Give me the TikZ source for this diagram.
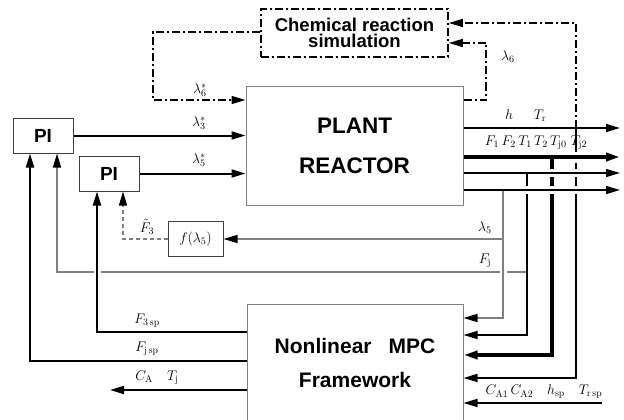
\RequirePackage{fix-cm}
\documentclass[tikz,border=0pt]{standalone}
\usepackage{fontspec}
\newfontfamily\bsf{Liberation Sans}[BoldFont={Liberation Sans Bold}]
\usetikzlibrary{arrows.meta,calc}
\definecolor{lg}{gray}{0.5}
\tikzset{
  arr/.style={-{Triangle[length=14pt,width=8pt]}},
  arrk/.style={-{Triangle[length=14pt,width=8pt,color=black]}},
  boxg/.style={draw=lg, line width=1pt, fill=white, inner sep=0pt},
  boxd/.style={draw=black!75, line width=1pt, fill=white, inner sep=0pt},
  ddot/.style={line width=1.5pt, dash pattern=on 8pt off 3pt on 2pt off 3pt},
  medl/.style={line width=2pt},
  thinl/.style={line width=1.3pt},
  thickl/.style={line width=4pt},
  grayl/.style={draw=lg, line width=1.3pt},
  lab/.style={inner sep=0pt, font=\fontsize{14}{16}\selectfont},
  gapw/.style={draw=white, line width=#1},
}
\begin{document}
\begin{tikzpicture}[x=1pt,y=-1pt]
\useasboundingbox (0,0) rectangle (624,420);

% boxes
\node[draw=black, ddot, fill=white, minimum width=187pt, minimum height=48pt, inner sep=0pt,
      align=center, font=\bsf\bfseries\fontsize{18.5}{16.5}\selectfont] (chem) at (354.5,33) {Chemical reaction\\simulation};
\node[boxg, minimum width=217pt, minimum height=118pt, align=center,
      font=\bsf\bfseries\fontsize{22.5}{40}\selectfont] (plant) at (354.5,146) {PLANT\\REACTOR};
\node[boxg, minimum width=216pt, minimum height=118pt, align=center,
      font=\bsf\bfseries\fontsize{21}{34}\selectfont] (mpc) at (355,363) {Nonlinear\hspace{17pt}MPC\\Framework};
\node[boxd, minimum width=60pt, minimum height=35pt, font=\bsf\bfseries\fontsize{19}{20}\selectfont] (pi1) at (43,135.5) {PI};
\node[boxd, minimum width=60pt, minimum height=35pt, font=\bsf\bfseries\fontsize{19}{20}\selectfont] (pi2) at (109,173.5) {PI};
\node[boxd, minimum width=55pt, minimum height=35pt, font=\fontsize{14}{16}\selectfont] (fbox) at (195.5,239) {$f(\lambda_5)$};

% coordinates
\coordinate (a1) at (153,32);  \coordinate (a2) at (153,100);
\coordinate (b1) at (486,100); \coordinate (b2) at (486,43);
\coordinate (o1) at (576,128); \coordinate (o2) at (576,23);
\coordinate (e1) at (620,128); \coordinate (e2) at (620,157);
\coordinate (e3) at (620,173); \coordinate (e4) at (620,190);
\coordinate (v1) at (576,378);
\coordinate (t1) at (552,157); \coordinate (t2) at (552,355);
\coordinate (s1) at (527,173); \coordinate (s2) at (527,335);
\coordinate (r1) at (503,190); \coordinate (r2) at (503,318);
\coordinate (l1) at (503,239);
\coordinate (j1) at (527,272); \coordinate (j2) at (57,272);
\coordinate (k1) at (123,239);
\coordinate (m1) at (97,332);
\coordinate (n1) at (30,361);
\coordinate (q1) at (110,390);
\coordinate (p1) at (602,403);

% dash-dot loops around the chemical reaction simulation
\draw[ddot, arr] (chem.west |- a1) -- (a1) -- (a2) -- (plant.west |- a2);
\draw[ddot, arr] (plant.east |- b1) -- (b1) -- (b2) -- (chem.east |- b2);
\draw[ddot, arr] (o1) -- (o2) -- (chem.east |- o2);

% PI outputs
\draw[medl, arr] (pi1.east) -- (plant.west |- pi1.east);
\draw[medl, arr] (pi2.east) -- (plant.west |- pi2.east);

% F_j line (below verticals)
\draw[grayl, arrk] (j1) -- (j2) -- (pi1.south -| j2);
\draw[gapw=7pt] (503,266) -- (503,278);
\draw[gapw=7pt] (97,266) -- (97,278);

% verticals to MPC
\draw[thinl, line width=1.6pt, arr] (o1) -- (v1) -- (mpc.east |- v1);
\draw[thickl, arr] (t1) -- (t2) -- (mpc.east |- t2);
\draw[thinl, arr] (s1) -- (s2) -- (mpc.east |- s2);
\draw[grayl, arrk] (r1) -- (r2) -- (mpc.east |- r2);
\draw[grayl, arrk] (l1) -- (fbox.east);

% gaps in verticals where outputs cross
\draw[gapw=11pt] (572,157) -- (580,157);
\draw[gapw=8pt] (572,173) -- (580,173);
\draw[gapw=8pt] (572,190) -- (580,190);
\draw[gapw=8pt] (546,173) -- (558,173);
\draw[gapw=8pt] (546,190) -- (558,190);
\draw[gapw=8pt] (523,190) -- (531,190);

% plant outputs
\draw[medl, arr] (plant.east |- e1) -- (e1);
\draw[thickl, arr] (plant.east |- e2) -- (e2);
\draw[thinl, arr] (plant.east |- e3) -- (e3);
\draw[thinl, arr] (plant.east |- e4) -- (e4);

% left feedback
\draw[grayl, dash pattern=on 4pt off 3pt, arrk] (fbox.west) -- (k1) -- (pi2.south -| k1);
\draw[medl, arr] (mpc.west |- m1) -- (m1) -- (pi2.south -| m1);
\draw[medl, arr] (mpc.west |- n1) -- (n1) -- (pi1.south -| n1);
\draw[medl, arr] (mpc.west |- q1) -- (q1);
\draw[thinl, line width=1.6pt, arr] (p1) -- (mpc.east |- p1);

% labels
\node[lab] (L6s) at (200,90) {$\lambda_6^*$};
\node[lab] (L3s) at (199,123) {$\lambda_3^*$};
\node[lab] (L5s) at (199,160) {$\lambda_5^*$};
\node[lab] (L6) at (508,57) {$\lambda_6$};
\node[lab] (Lh) at (509,115) {$h$};
\node[lab] (LTr) at (540,116) {$T_\mathrm{r}$};
\node[lab] (Lout) at (536,143) {$F_1\,F_2\,T_1\,T_2\,T_{\mathrm{j}0}\;T_{\mathrm{j}2}$};
\node[lab] (L5) at (485,228) {$\lambda_5$};
\node[lab] (Lj) at (485,261) {$F_\mathrm{j}$};
\node[lab] (Lf3) at (147,227) {$\tilde F_3$};
\node[lab] (L3sp) at (147,321) {$F_{3\,\mathrm{sp}}$};
\node[lab] (Ljsp) at (147,349) {$F_{\mathrm{j\,sp}}$};
\node[lab] (LCA) at (157,378) {$C_\mathrm{A}\quad T_\mathrm{j}$};
\node[lab] (Lsp) at (544,392) {$C_\mathrm{A1}\,C_\mathrm{A2}\quad h_\mathrm{sp}\quad T_{\mathrm{r\,sp}}$};
\end{tikzpicture}
\end{document}
